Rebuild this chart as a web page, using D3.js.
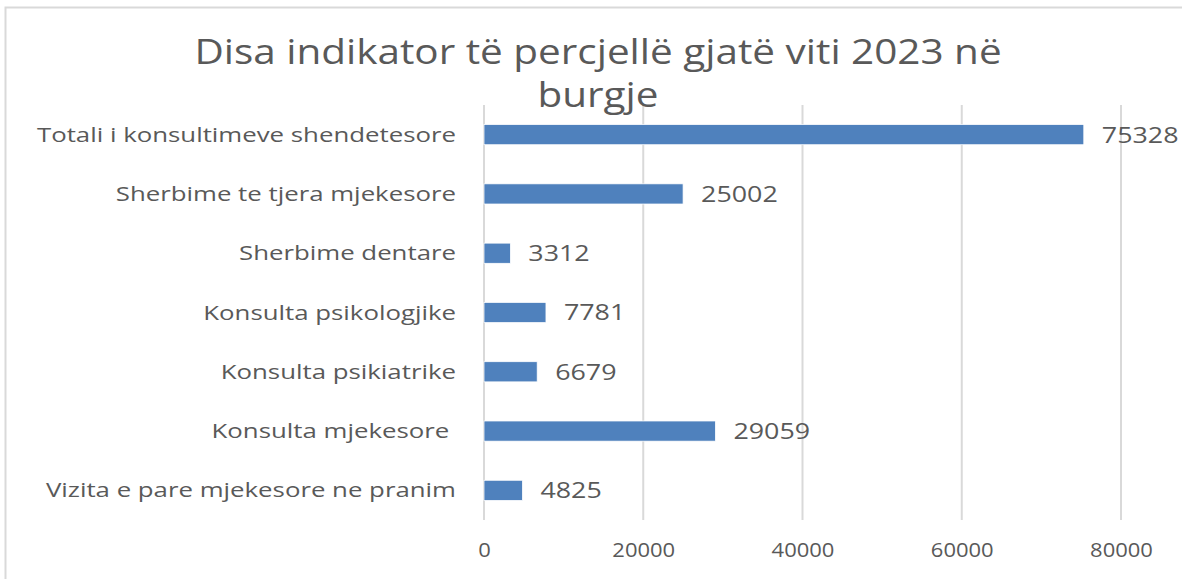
<!DOCTYPE html>
<html>
<head>
<meta charset="utf-8">
<script src="https://cdn.jsdelivr.net/npm/d3@7"></script>
<style>
  html, body { margin: 0; padding: 0; background: #fff; }
  #chart { width: 1182px; height: 579px; }
  text { font-family: "Open Sans", "Noto Sans", sans-serif; fill: #595959; }
</style>
</head>
<body>
<div id="chart"></div>
<script>
// data
var categories = [
    "Totali i konsultimeve shendetesore",
    "Sherbime te tjera mjekesore",
    "Sherbime dentare",
    "Konsulta psikologjike",
    "Konsulta psikiatrike",
    "Konsulta mjekesore ",
    "Vizita e pare mjekesore ne pranim"
];
var values = [75328, 25002, 3312, 7781, 6679, 29059, 4825];
var ticks = [0, 20000, 40000, 60000, 80000];
var titleLines = ["Disa indikator të percjellë gjatë viti 2023 në", "burgje"];

(function() {
    var width = 1182, height = 579;
    var plot = { left: 484, right: 1121, top: 105, bottom: 520 };
    // the source picture is stretched sideways a little
    var stretch = { title: 1.19, cat: 1.29, value: 1.22, tick: 1.1 };

    var svg = d3.select("#chart").append("svg")
        .attr("width", width)
        .attr("height", height);

    // chart frame (only top and left edges are inside the picture)
    svg.append("rect")
        .attr("x", 5.5).attr("y", 7.5)
        .attr("width", width + 20).attr("height", height + 20)
        .attr("fill", "none")
        .attr("stroke", "#d9d9d9")
        .attr("stroke-width", 2);

    var x = d3.scaleLinear()
        .domain([ticks[0], ticks[ticks.length - 1]])
        .range([plot.left, plot.right]);

    var y = d3.scaleBand()
        .domain(categories)
        .range([plot.top, plot.bottom])
        .paddingInner(0.66)
        .paddingOuter(0.33);

    // vertical gridlines
    svg.append("g").selectAll("line")
        .data(ticks)
        .enter().append("line")
            .attr("x1", function(d) { return x(d); })
            .attr("x2", function(d) { return x(d); })
            .attr("y1", plot.top)
            .attr("y2", plot.bottom)
            .attr("stroke", "#d9d9d9")
            .attr("stroke-width", 2);

    // x axis labels
    var xAxis = d3.axisBottom(x)
        .tickValues(ticks)
        .tickSize(0)
        .tickPadding(0)
        .tickFormat(d3.format("d"));
    var gx = svg.append("g")
        .attr("transform", "translate(0," + (plot.bottom + 37) + ")")
        .call(xAxis);
    gx.select(".domain").remove();
    gx.selectAll("text")
        .attr("dy", "0")
        .attr("transform", "scale(" + stretch.tick + ",1)")
        .style("font-size", "20px")
        .style("font-family", "'Open Sans', sans-serif")
        .attr("fill", "#595959");

    // category labels (keep trailing spaces, as in the source)
    var yAxis = d3.axisLeft(y).tickSize(0).tickPadding(0);
    var gy = svg.append("g")
        .attr("transform", "translate(" + (plot.left - 28) + ",0) scale(" + stretch.cat + ",1)")
        .call(yAxis);
    gy.select(".domain").remove();
    gy.selectAll("text")
        .attr("dy", "0.35em")
        .style("white-space", "pre")
        .style("font-size", "20px")
        .style("font-family", "'Open Sans', sans-serif")
        .attr("fill", "#595959");

    // bars
    svg.append("g").selectAll("rect")
        .data(values)
        .enter().append("rect")
            .attr("x", x(0))
            .attr("y", function(d, i) { return y(categories[i]); })
            .attr("width", function(d) { return x(d) - x(0); })
            .attr("height", y.bandwidth())
            .attr("fill", "#4f81bd")
            .attr("stroke", "#ffffff")
            .attr("stroke-width", 0.75);

    // value labels
    svg.append("g").selectAll("text")
        .data(values)
        .enter().append("text")
            .attr("transform", function(d, i) {
                return "translate(" + (x(d) + 18) + "," + (y(categories[i]) + y.bandwidth() / 2) + ") scale(" + stretch.value + ",1)";
            })
            .attr("dy", "0.36em")
            .style("font-size", "22px")
            .text(function(d) { return d; });

    // title
    svg.append("text")
        .attr("transform", "translate(598,64) scale(" + stretch.title + ",1)")
        .attr("text-anchor", "middle")
        .style("font-size", "34px")
        .selectAll("tspan")
        .data(titleLines)
        .enter().append("tspan")
            .attr("x", 0)
            .attr("y", function(d, i) { return i * 43; })
            .text(function(d) { return d; });
})();
</script>
</body>
</html>
